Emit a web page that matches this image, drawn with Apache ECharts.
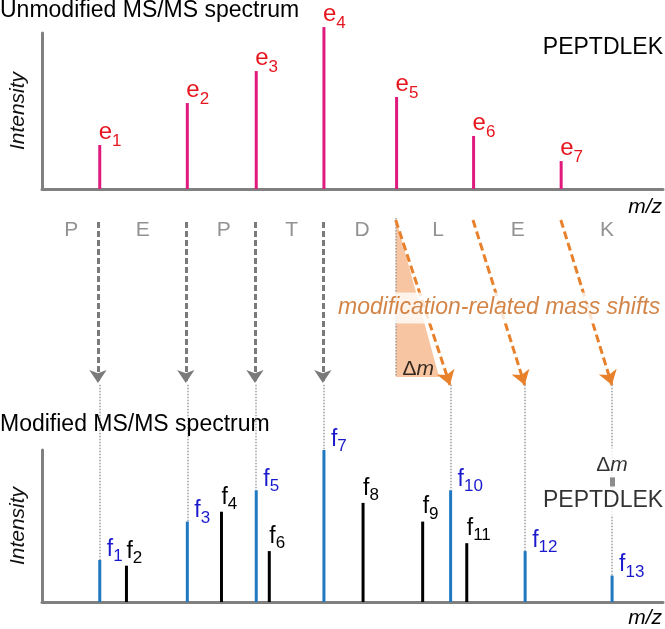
<!DOCTYPE html>
<html><head><meta charset="utf-8">
<script src="https://cdn.jsdelivr.net/npm/echarts@6.0.0/dist/echarts.min.js"></script>
<style>html,body{margin:0;padding:0;background:#fff}#c{width:665px;height:629px}</style>
</head><body><div id="c"></div>
<script>
// ---------------- data ----------------
const unmodNames = ['e1','e2','e3','e4','e5','e6','e7'];
const unmodMz = [93, 234, 345, 454, 571, 695, 836];
const unmodIntensity = [28.2, 55.1, 75.6, 103.8, 59.0, 34.0, 17.9];

const modNames = ['f1','f2','f3','f4','f5','f6','f7','f8','f9','f10','f11','f12','f13'];
const modMz = [93, 136, 234, 289, 345, 366, 454, 517, 613, 658, 684, 778, 918];
const modIntensity = [27.7, 23.9, 52.9, 59.4, 73.5, 33.5, 100, 65.2, 52.9, 73.5, 38.7, 33.5, 17.4];
const modMatched = [true,false,true,false,true,false,true,false,false,true,false,true,true];

const residues = ['P','E','P','T','D','L','E','K'];
const residueMz = [50, 165, 295, 404, 517, 639, 767, 910];

// e index -> f index
const directLinks = [[0,0],[1,2],[2,4],[3,6]];
const shiftedLinks = [[4,9],[5,11],[6,12]];

// ---------------- style ----------------
const FONT = '"Liberation Sans", Arial, Helvetica, sans-serif';
const AXIS = {color:'#808080', width:3};
const PINK = '#e0197d', RED = '#e5161e', BLUE = '#1f78c0', BLUE_TXT = '#1a1acc', ORANGE = '#e8812c';
const GUIDE_TOP = 143;          // bottom-panel y value where guides start (arrow tips)
const ARROW_TOP = 22, ARROW_TIP = 183, SHIFT_TIP = 185, LETTER_Y = 30;

function labelFmt(p){ return '{b|' + p.name[0] + '}{s|' + p.name.slice(1) + '}'; }

const unmodData = unmodMz.map((x,i)=>({value:[x, unmodIntensity[i]], name: unmodNames[i]}));
const modData = modMz.map((x,i)=>{
  const m = modMatched[i];
  return {
    value:[x, modIntensity[i]], name: modNames[i],
    itemStyle:{color: m ? BLUE : '#000'},
    label:{offset: m ? [7, 5] : [0, 1],
      rich:{b:{fontSize:23, color: m?BLUE_TXT:'#000', padding:[0,0,4,0], verticalAlign:'bottom', fontFamily:FONT},
            s:{fontSize:17, color: m?BLUE_TXT:'#000', verticalAlign:'bottom', fontFamily:FONT}}}
  };
});

const guideData = modMz.map((x,i)=>modMatched[i] ? {coords:[[x, GUIDE_TOP],[x, modIntensity[i]]]} : null).filter(Boolean);
const grayArrowData = directLinks.map(([e,f])=>({coords:[[unmodMz[e], ARROW_TOP],[modMz[f], ARROW_TIP]]}));
const orangeArrowData = shiftedLinks.map(([e,f])=>({coords:[[unmodMz[e], ARROW_TOP-2],[modMz[f], SHIFT_TIP]]}));
const shadeData = [[unmodMz[shiftedLinks[0][0]], modMz[shiftedLinks[0][1]]]];

const lastF = modMz[modMz.length-1];
const TITLE = {fontSize:23, fontWeight:'normal', color:'#000', fontFamily:FONT};

const chart = echarts.init(document.getElementById('c'));
chart.setOption({
  animation:false,
  backgroundColor:'#fff',
  textStyle:{fontFamily:FONT},
  title:[
    {text:'Unmodified MS/MS spectrum', left:0, top:-1, padding:0, textStyle:TITLE},
    {text:'PEPTDLEK', right:2, top:36, padding:0, textStyle:TITLE},
    {text:'Modified MS/MS spectrum', left:0, top:413, padding:0, textStyle:TITLE}
  ],
  grid:[
    {left:40, right:2, top:33, height:156},
    {left:40, right:2, top:450, height:155},
    {left:40, right:2, top:200, height:190}
  ],
  xAxis:[
    {type:'value', gridIndex:0, min:0, max:1000, axisLine:{show:true, lineStyle:AXIS}, axisTick:{show:false}, axisLabel:{show:false}, splitLine:{show:false},
     name:'m/z', nameLocation:'end', nameGap:-1,
     nameTextStyle:{fontStyle:'italic', fontSize:21, color:'#000', align:'right', verticalAlign:'top', padding:[8,0,0,0], fontFamily:FONT}},
    {type:'value', gridIndex:1, min:0, max:1000, axisLine:{show:true, lineStyle:AXIS}, axisTick:{show:false}, axisLabel:{show:false}, splitLine:{show:false},
     name:'m/z', nameLocation:'end', nameGap:-1,
     nameTextStyle:{fontStyle:'italic', fontSize:21, color:'#000', align:'right', verticalAlign:'top', padding:[6,0,0,0], fontFamily:FONT}},
    {type:'value', gridIndex:2, min:0, max:1000, show:false}
  ],
  yAxis:[
    {type:'value', gridIndex:0, min:0, max:100, axisLine:{show:true, lineStyle:AXIS}, axisTick:{show:false}, axisLabel:{show:false}, splitLine:{show:false},
     name:'Intensity', nameLocation:'middle', nameRotate:90, nameGap:13,
     nameTextStyle:{fontStyle:'italic', fontSize:21, color:'#111', fontFamily:FONT}},
    {type:'value', gridIndex:1, min:0, max:100, axisLine:{show:true, lineStyle:AXIS}, axisTick:{show:false}, axisLabel:{show:false}, splitLine:{show:false},
     name:'Intensity', nameLocation:'middle', nameRotate:90, nameGap:13,
     nameTextStyle:{fontStyle:'italic', fontSize:21, color:'#111', fontFamily:FONT}},
    {type:'value', gridIndex:2, min:0, max:190, inverse:true, show:false}
  ],
  series:[
    // shaded mass-shift triangle
    {type:'custom', xAxisIndex:2, yAxisIndex:2, coordinateSystem:'cartesian2d', z:1, silent:true,
     data:shadeData,
     renderItem:function(params, api){
       const x0 = api.value(0), x1 = api.value(1);
       const p1 = api.coord([x0, 18]), p2 = api.coord([x0, 177]), p3 = api.coord([x0 + 0.8*(x1-x0), 177]);
       return {type:'polygon', shape:{points:[p1,p2,p3]}, style:{fill:'#f7c5a1'}};
     }},
    {type:'lines', coordinateSystem:'cartesian2d', xAxisIndex:2, yAxisIndex:2, z:2, clip:false, silent:true,
     data:[{coords:[[shadeData[0][0], 18],[shadeData[0][0], 177]]}],
     lineStyle:{color:'#a0a0a0', width:1.5, type:[1.5,1.5], opacity:1}},
    // gray dashed arrows
    {type:'lines', coordinateSystem:'cartesian2d', xAxisIndex:2, yAxisIndex:2, z:3, clip:false, silent:true,
     symbol:['none','arrow'], symbolSize:13,
     data:grayArrowData, lineStyle:{color:'#7a7a7a', width:3, type:[6,3], opacity:1}},
    // orange dashed arrows
    {type:'lines', coordinateSystem:'cartesian2d', xAxisIndex:2, yAxisIndex:2, z:3, clip:false, silent:true,
     symbol:['none','arrow'], symbolSize:14,
     data:orangeArrowData, lineStyle:{color:ORANGE, width:3, type:[8,4], opacity:1}},
    // residue letters
    {type:'scatter', xAxisIndex:2, yAxisIndex:2, symbolSize:0, z:5, silent:true,
     data:residueMz.map((x,i)=>({value:[x, LETTER_Y], name:residues[i]})),
     label:{show:true, position:'inside', formatter:'{b}', fontSize:21, color:'#777777', fontFamily:FONT}},
    // annotations in middle area
    {type:'scatter', xAxisIndex:2, yAxisIndex:2, symbolSize:0, z:10, silent:true,
     data:[{value:[737, 108], name:'modification-related mass shifts'}],
     label:{show:true, position:'inside', formatter:'{b}', fontSize:23, fontStyle:'italic', color:'#c8661a',
            backgroundColor:'#fff', padding:[4,3], fontFamily:FONT}},
    {type:'scatter', xAxisIndex:2, yAxisIndex:2, symbolSize:0, z:10, silent:true,
     data:[{value:[607, 169], name:'dm'}],
     label:{show:true, position:'inside', formatter:'{d|Δ}{m|m}',
            rich:{d:{fontSize:21, color:'#000', fontFamily:FONT}, m:{fontSize:21, fontStyle:'italic', color:'#000', fontFamily:FONT}}}},
    // unmodified spectrum
    {type:'bar', xAxisIndex:0, yAxisIndex:0, barWidth:3, clip:false, z:4, silent:true,
     itemStyle:{color:PINK},
     data:unmodData,
     label:{show:true, position:'top', distance:0, align:'left', verticalAlign:'bottom', offset:[-1,5],
            formatter:labelFmt,
            rich:{b:{fontSize:24, color:RED, padding:[0,0,6,0], verticalAlign:'bottom', fontFamily:FONT},
                  s:{fontSize:17, color:RED, verticalAlign:'bottom', fontFamily:FONT}}}},
    // guides from arrow tips to matched fragments
    {type:'lines', coordinateSystem:'cartesian2d', xAxisIndex:1, yAxisIndex:1, z:2, clip:false, silent:true,
     data:guideData, lineStyle:{color:'#a0a0a0', width:1.5, type:[1.5,1.5], opacity:1}},
    // modified spectrum
    {type:'bar', xAxisIndex:1, yAxisIndex:1, barWidth:3, clip:false, z:4, silent:true,
     data:modData,
     label:{show:true, position:'top', distance:0, align:'left', verticalAlign:'bottom', formatter:labelFmt}},
    // precursor annotation at last fragment
    {type:'lines', coordinateSystem:'cartesian2d', xAxisIndex:1, yAxisIndex:1, z:11, clip:false, silent:true,
     data:[{coords:[[lastF, 82],[lastF, 76]]}], lineStyle:{color:'#8c8c8c', width:5, opacity:1}},
    {type:'scatter', xAxisIndex:1, yAxisIndex:1, symbolSize:0, z:10, silent:true,
     data:[{value:[lastF, 90.3], name:'dm'}],
     label:{show:true, position:'inside', formatter:'{d|Δ}{m|m}', backgroundColor:'#fff', padding:[6,3],
            rich:{d:{fontSize:21, color:'#000', fontFamily:FONT}, m:{fontSize:21, fontStyle:'italic', color:'#000', fontFamily:FONT}}}},
    {type:'scatter', xAxisIndex:1, yAxisIndex:1, symbolSize:0, z:10, silent:true,
     data:[{value:[lastF, 66.5], name:'PEPTDLEK'}],
     label:{show:true, position:'inside', offset:[-9,0], formatter:'{b}', fontSize:23, color:'#000',
            backgroundColor:'#fff', padding:[3,1], fontFamily:FONT}}
  ]
});
</script></body></html>
